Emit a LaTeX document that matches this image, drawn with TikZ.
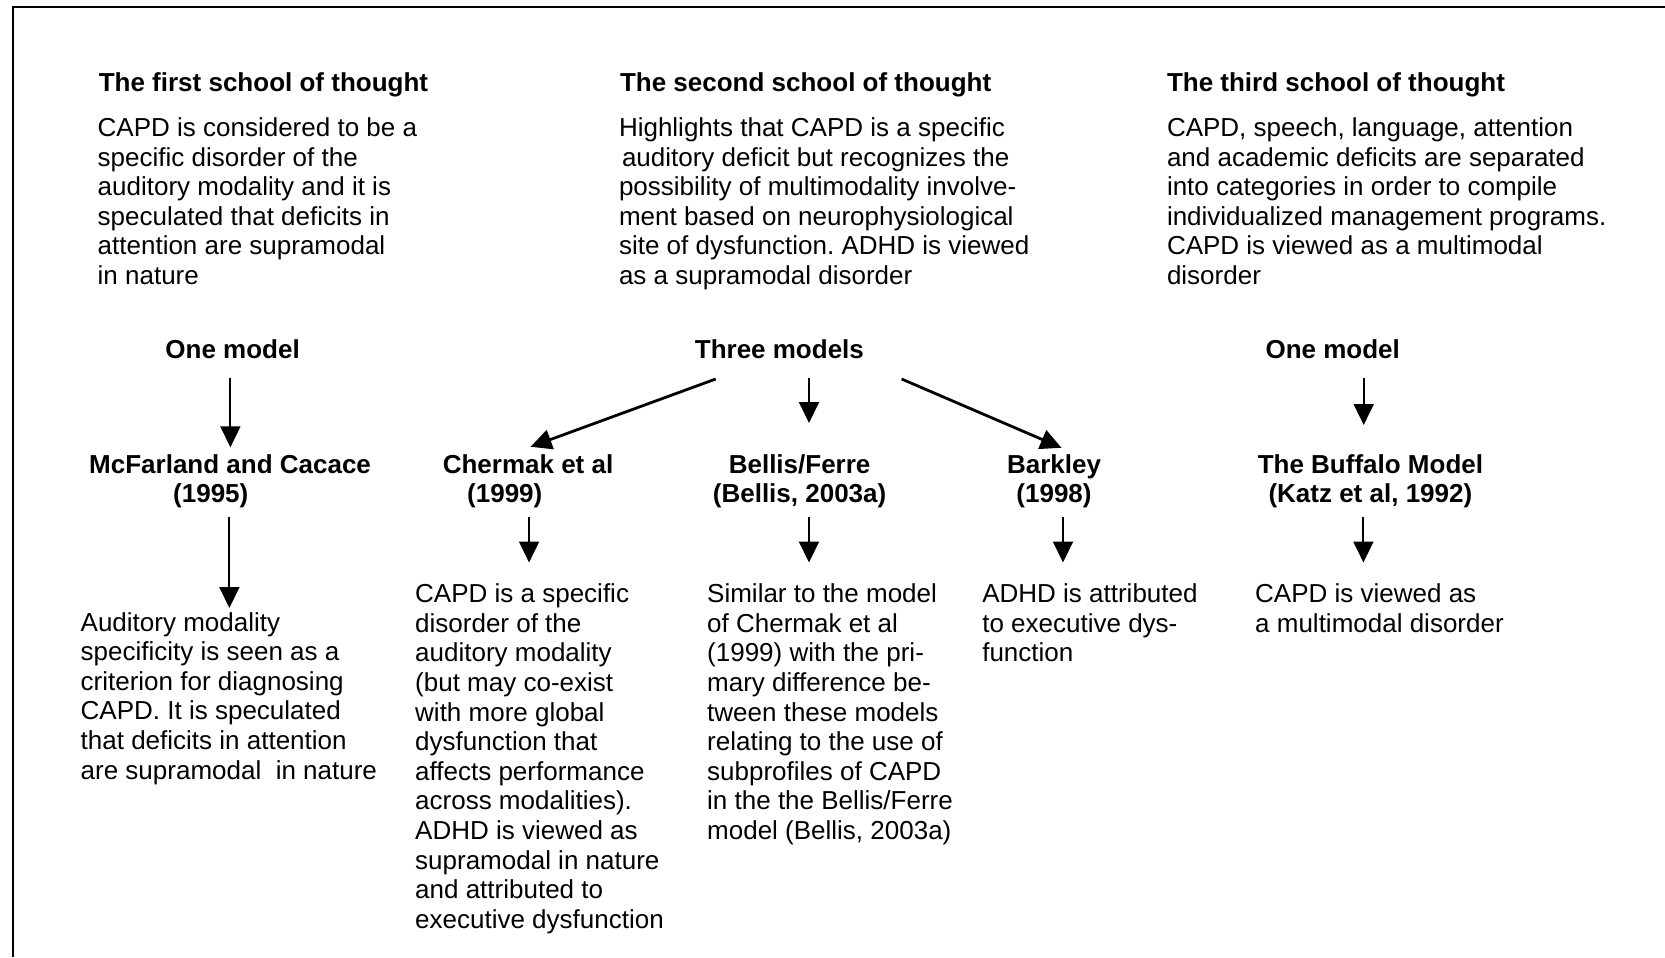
\documentclass[tikz,border=0pt]{standalone}
\usepackage{fontspec}
\setmainfont{Liberation Sans}
\usetikzlibrary{arrows.meta,calc}
\begin{document}
\frenchspacing
\begin{tikzpicture}[x=1bp,y=-1bp,
  txt/.style={inner sep=0pt, outer sep=0pt, font=\fontsize{26bp}{29.6bp}\selectfont\frenchspacing, align=left},
  hdr/.style={txt, font=\fontsize{26bp}{29.6bp}\selectfont\bfseries},
  arr/.style={draw=black, line width=2bp, -{Triangle[length=21bp,width=20bp]}},
  darr/.style={arr, line width=2.8bp},
  frame/.style={draw=black, line width=2bp}]
\useasboundingbox (0,0) rectangle (1665,957);
\draw[frame] (1665,7) -- (12.5,7) -- (12.5,957);

% school headings
\node[hdr, anchor=base west] (t1) at (98.8,91.5) {The first school of thought};
\node[hdr, anchor=base west] (t2) at (620,91.5) {The second school of thought};
\node[hdr, anchor=base west] (t3) at (1167,91.5) {The third school of thought};

% school descriptions
\node[txt, anchor=north west] (b1) at (97.7,115.8) {\strut CAPD is considered to be a\\ specific disorder of the\\ auditory modality and it is\\ speculated that deficits in\\ attention are supramodal\\ in nature};
\node[txt, anchor=north west] (b2) at (619,115.8) {\strut Highlights that CAPD is a specific\\ \hspace*{3bp}auditory deficit but recognizes the\\ possibility of multimodality involve-\\ ment based on neurophysiological\\ site of dysfunction. ADHD is viewed\\ as a supramodal disorder};
\node[txt, anchor=north west] (b3) at (1167,115.8) {\strut CAPD, speech, language, attention\\ and academic deficits are separated\\ into categories in order to compile\\ individualized management programs.\\ CAPD is viewed as a multimodal\\ disorder};

% model counts
\node[hdr, anchor=base] (one1) at (232.6,358.4) {One model};
\node[hdr, anchor=base] (three) at (779.4,358.4) {Three models};
\node[hdr, anchor=base] (one3) at (1332.7,358.4) {One model};

% models
\node[hdr, anchor=north west] (mcf) at (89.2,452.3) {\strut McFarland and Cacace\\ \hspace*{84bp}(1995)\strut};
\node[hdr, anchor=north west] (cher) at (442.8,452.3) {\strut Chermak et al\\ \hspace*{24.4bp}(1999)\strut};
\node[hdr, align=center, anchor=north] (bell) at (799.6,452.3) {\strut Bellis/Ferre\\ (Bellis, 2003a)\strut};
\node[hdr, align=center, anchor=north] (bark) at (1054,452.3) {\strut Barkley\\ (1998)\strut};
\node[hdr, align=center, anchor=north] (buff) at (1370.4,452.3) {\strut The Buffalo Model\\ (Katz et al, 1992)\strut};

% model descriptions
\node[txt, anchor=north west] (mcfd) at (80.7,610.3) {\strut Auditory modality\\ specificity is seen as a\\ criterion for diagnosing\\ CAPD. It is speculated\\ that deficits in attention\\ are supramodal\ \ in nature};
\node[txt, anchor=north west] (cherd) at (415.2,581.9) {\strut CAPD is a specific\\ disorder of the\\ auditory modality\\ (but may co-exist\\ with more global\\ dysfunction that\\ affects performance\\ across modalities).\\ ADHD is viewed as\\ supramodal in nature\\ and attributed to\\ executive dysfunction};
\node[txt, anchor=north west] (belld) at (707.2,581.9) {\strut Similar to the model\\ of Chermak et al\\ (1999) with the pri-\\ mary difference be-\\ tween these models\\ relating to the use of\\ subprofiles of CAPD\\ in the the Bellis/Ferre\\ model (Bellis, 2003a)};
\node[txt, anchor=north west] (barkd) at (982.3,581.9) {\strut ADHD is attributed\\ to executive dys-\\ function};
\node[txt, anchor=north west] (buffd) at (1255.2,581.9) {\strut CAPD is viewed as\\ a multimodal disorder};

% connectors: counts -> models
\draw[arr] ($(one1.base)+(-2.2,19.6)$) -- ($(one1.base |- mcf.north)+(-2.2,-5)$);
\draw[arr] ($(three.base)+(29.6,19.6)$) -- ($(three.base |- bell.north)+(29.6,-29.3)$);
\draw[darr] ($(three.base)+(-63.7,20.6)$) -- ($(cher.north)+(2.5,-5.5)$);
\draw[darr] ($(three.base)+(122.2,20.6)$) -- ($(bark.north)+(7.5,-4.5)$);
\draw[arr] ($(one3.base)+(31,19.6)$) -- ($(one3.base |- buff.north)+(31,-27.3)$);

% connectors: models -> descriptions
\draw[arr] ($(mcf.south)+(-0.7,5.5)$) -- ($(mcf.south |- mcfd.north)+(-0.7,-2.3)$);
\draw[arr] ($(cher.south)+(1,5.5)$) -- ($(cher.south |- cherd.north)+(1,-19.4)$);
\draw[arr] ($(bell.south)+(9.4,5.5)$) -- ($(bell.south |- belld.north)+(9.4,-19.4)$);
\draw[arr] ($(bark.south)+(9,5.5)$) -- ($(bark.south |- barkd.north)+(9,-19.4)$);
\draw[arr] ($(buff.south)+(-7,5.5)$) -- ($(buff.south |- buffd.north)+(-7,-19.4)$);
\end{tikzpicture}
\end{document}
